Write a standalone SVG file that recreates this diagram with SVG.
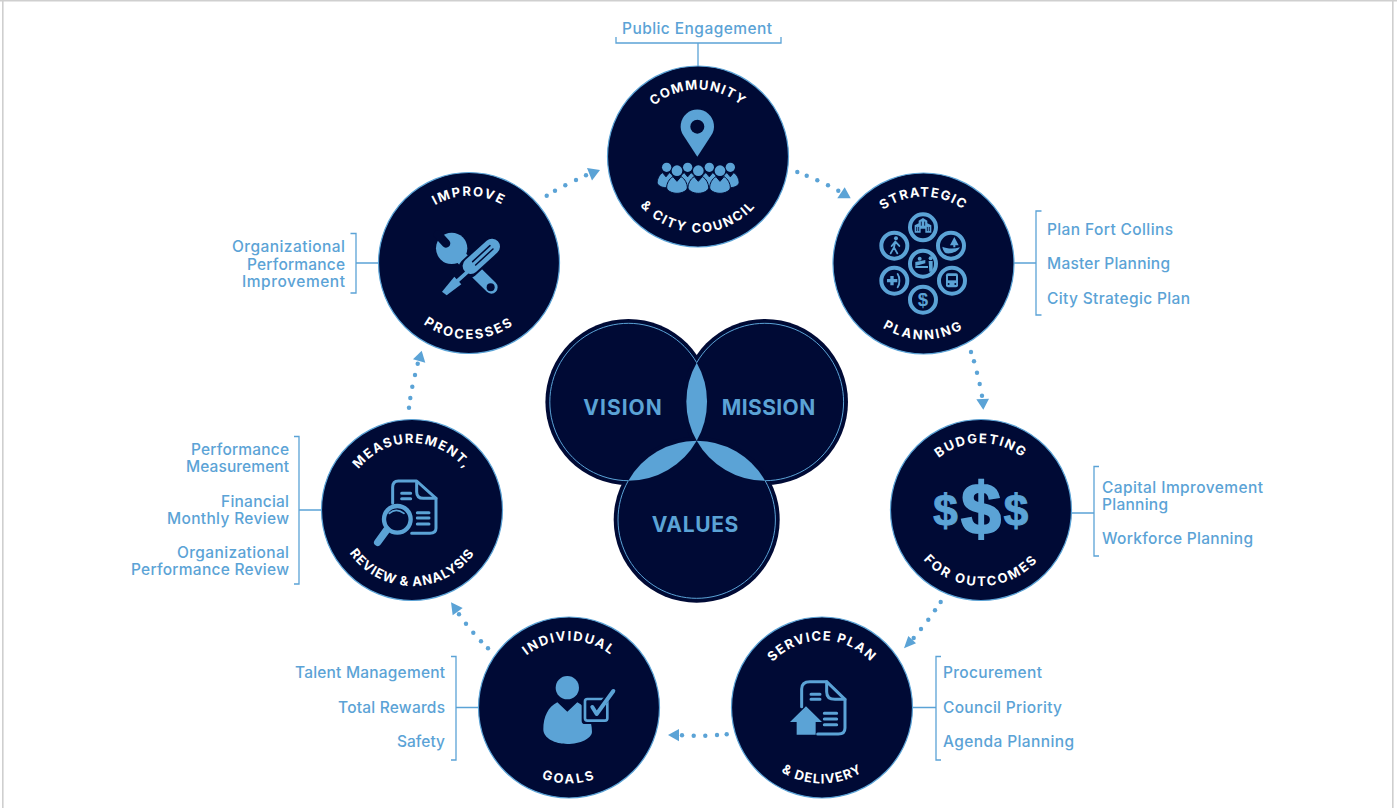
<svg xmlns="http://www.w3.org/2000/svg" width="1397" height="808" viewBox="0 0 1397 808">
<style>
.disc{fill:#000a35;stroke:#5ba3d6;stroke-width:1.2}
.arc{font-family:Inter,"Liberation Sans",sans-serif;font-size:13px;font-weight:700;fill:#fff;text-anchor:middle}
.lab{font-family:Inter,"Liberation Sans",sans-serif;font-size:15.5px;font-weight:500;fill:#5ba3d6;transform:translateY(.6px)}
.venn{font-family:Inter,"Liberation Sans",sans-serif;font-size:21px;font-weight:700;fill:#5ba3d6}
.br{fill:none;stroke:#5ba3d6;stroke-width:1.3}
.dot{fill:#5ba3d6}
.ic{fill:#5ba3d6}
.ln{fill:none;stroke:#5ba3d6;stroke-linecap:round;stroke-linejoin:round}
.dk{fill:#000a35}
.dl{fill:none;stroke:#000a35;stroke-linecap:round}
.ring{fill:none;stroke:#5ba3d6;stroke-width:12}
.usd{font-family:"Liberation Sans",sans-serif;font-weight:700;fill:#5ba3d6;text-anchor:middle}
</style>
<defs>
<path id="top" d="M-67 0A67 67 0 0 1 67 0"/>
<path id="bot" d="M-76 0A76 76 0 0 0 76 0"/>
<path id="person" d="M-12 0L0 14L12 0C24 6 31 22 31 32C31 42 16 50 0 50C-16 50-31 42-31 32C-31 22-24 6-12 0Z"/>
</defs>
<rect width="1397" height="808" fill="#fff"/>
<path d="M0 .8H1397M2.8 0V808M1392.8 0V808" fill="none" stroke="#cfcfcf" stroke-width="1.6"/>

<g id="connectors">
<path class="br" d="M698 43V66M1014 263H1036M356 263H378M299 510H321M456 707.5H478M912 707.5H936M1071 513H1094"/>
<g class="dot"><circle cx="797.3" cy="172" r="2.2"/><circle cx="806.7" cy="175.7" r="2.2"/><circle cx="817.3" cy="180.3" r="2.2"/><circle cx="828" cy="185.3" r="2.2"/><circle cx="838.3" cy="190.7" r="2.2"/><polygon points="837.3,198.3 844.7,187.3 850.7,198.3"/></g>
<g class="dot"><circle cx="971" cy="352" r="2.2"/><circle cx="974" cy="361.3" r="2.2"/><circle cx="977" cy="372.7" r="2.2"/><circle cx="979.7" cy="384" r="2.2"/><circle cx="982" cy="395.7" r="2.2"/><polygon points="976.3,399.3 989,398.7 983.3,409.7"/></g>
<g class="dot"><circle cx="940.7" cy="602" r="2.2"/><circle cx="935" cy="610.3" r="2.2"/><circle cx="928.3" cy="619.7" r="2.2"/><circle cx="921" cy="629" r="2.2"/><circle cx="913.7" cy="638" r="2.2"/><polygon points="904,648.3 908.3,636 916,643.3"/></g>
<g class="dot"><circle cx="726.7" cy="734.3" r="2.2"/><circle cx="717" cy="735" r="2.2"/><circle cx="705.3" cy="735.7" r="2.2"/><circle cx="693.7" cy="735.7" r="2.2"/><circle cx="682" cy="735.3" r="2.2"/><polygon points="668,735 679,729 679,741.3"/></g>
<g class="dot"><circle cx="488" cy="648.3" r="2.2"/><circle cx="481" cy="641.3" r="2.2"/><circle cx="473.3" cy="632.7" r="2.2"/><circle cx="466" cy="623.7" r="2.2"/><circle cx="459" cy="614.3" r="2.2"/><polygon points="451,602.3 462.7,608 452.7,615.3"/></g>
<g class="dot"><circle cx="409" cy="407.7" r="2.2"/><circle cx="410.3" cy="398" r="2.2"/><circle cx="412.3" cy="386.7" r="2.2"/><circle cx="415" cy="375" r="2.2"/><circle cx="417.7" cy="363.7" r="2.2"/><polygon points="421.7,350.7 425.3,362.7 413,359.3"/></g>
<g class="dot"><circle cx="546.7" cy="195.7" r="2.2"/><circle cx="555" cy="190.7" r="2.2"/><circle cx="565.3" cy="185.3" r="2.2"/><circle cx="576" cy="180" r="2.2"/><circle cx="586" cy="175.3" r="2.2"/><polygon points="600,170 587,168 592,180.5"/></g>
</g>

<g id="venn">
<circle class="dk" cx="628.4" cy="402" r="83"/><circle class="dk" cx="765" cy="402" r="83"/><circle class="dk" cx="696.7" cy="519.7" r="83"/>
<g fill="none" stroke="#5ba3d6" stroke-width="1"><path d="M696.7 362.7A78.7 78.7 0 1 0 628.3 480.7"/><path d="M696.7 362.7A78.7 78.7 0 1 1 765.1 480.7"/><path d="M628.3 480.7A78.7 78.7 0 1 0 765.1 480.7"/></g>
<path class="ic" d="M696.7 362.7A78.7 78.7 0 0 1 696.7 440.7A78.7 78.7 0 0 1 696.7 362.7Z"/>
<path class="ic" d="M696.7 440.7A78.7 78.7 0 0 1 628.3 480.7A78.7 78.7 0 0 1 696.7 440.7Z"/>
<path class="ic" d="M696.7 440.7A78.7 78.7 0 0 0 765.1 480.7A78.7 78.7 0 0 0 696.7 440.7Z"/>
<text class="venn" x="583.3" y="415" textLength="78.5" lengthAdjust="spacing">VISION</text>
<text class="venn" x="721.7" y="415" textLength="93.5" lengthAdjust="spacing">MISSION</text>
<text class="venn" x="651.7" y="531.7" textLength="86.6" lengthAdjust="spacing">VALUES</text>
</g>

<g id="node-community">
<circle class="disc" cx="698" cy="156.5" r="90.5"/>
<g transform="translate(698 156.5)"><text class="arc" letter-spacing="1.2"><textPath href="#top" startOffset="50%">COMMUNITY</textPath></text><text class="arc" letter-spacing="1.8"><textPath href="#bot" startOffset="50%">&amp; CITY COUNCIL</textPath></text></g>
<g transform="translate(590 0) scale(.3333)">
<path class="ic" d="M322 470L280 406A50 50 0 1 1 364 406Z"/><circle class="dk" cx="322" cy="380" r="21"/>
<g class="ic"><circle cx="230" cy="502" r="14"/><circle cx="293" cy="502" r="14"/><circle cx="358" cy="502" r="14"/><circle cx="421" cy="502" r="14"/></g>
<g class="ic" stroke="#000a35" stroke-width="3"><use href="#person" transform="translate(228 518) scale(.85 .9)"/><use href="#person" transform="translate(293 518) scale(.85 .9)"/><use href="#person" transform="translate(358 518) scale(.85 .9)"/><use href="#person" transform="translate(421 518) scale(.85 .9)"/>
<use href="#person" transform="translate(261 530)"/><use href="#person" transform="translate(325 530)"/><use href="#person" transform="translate(390 530)"/></g>
<g class="ic"><circle cx="261" cy="512" r="16"/><circle cx="325" cy="512" r="16"/><circle cx="390" cy="512" r="16"/></g>
</g>
</g>

<g id="node-strategic">
<circle class="disc" cx="923.5" cy="263.5" r="90.5"/>
<g transform="translate(923.5 263.5)"><text class="arc" letter-spacing="1.4"><textPath href="#top" startOffset="50%">STRATEGIC</textPath></text><text class="arc" letter-spacing="2.2"><textPath href="#bot" startOffset="50%">PLANNING</textPath></text></g>
<g transform="translate(820 170) scale(.3333)">
<circle class="ring" cx="309" cy="172" r="39"/><circle class="ring" cx="223" cy="227" r="39"/><circle class="ring" cx="393" cy="227" r="39"/><circle class="ring" cx="309" cy="281" r="39"/><circle class="ring" cx="223" cy="332" r="39"/><circle class="ring" cx="396" cy="332" r="39"/><circle class="ring" cx="309" cy="389" r="39"/>
<path class="ic" d="M284 188V166L296 160V152L309 144L322 152V160L334 166V188H316V176H302V188Z"/>
<path class="dl" stroke-width="2.5" d="M290 172V182M296 172V182M322 172V182M328 172V182M304 156V166M314 156V166"/>
<circle class="ic" cx="228" cy="205" r="6"/><path class="ln" stroke-width="5.5" d="M226 214L222 232L232 250M222 232L212 250M226 215L215 228M226 215L238 228"/>
<path class="ic" d="M403 201L390 226H400V232H406V226H416Z"/><path class="ic" d="M367 230C380 236 400 238 420 232C414 244 398 252 378 250C372 246 368 238 367 230Z"/>
<circle class="ic" cx="299" cy="266" r="6"/><circle class="ic" cx="332" cy="265" r="6"/><path class="ic" d="M286 276L316 270V280L286 288ZM286 288H324V294H286ZM326 273H338V305H328Z"/>
<path class="ic" d="M211 318H221V327H232V337H221V346H211V337H201V327H211Z"/><path class="ln" stroke-width="5.5" d="M233 312C240 322 240 342 233 352"/>
<rect class="ic" x="378" y="310" width="36" height="42" rx="6"/><rect class="dk" x="384" y="318" width="24" height="13"/><circle class="dk" cx="386" cy="342" r="3"/><circle class="dk" cx="406" cy="342" r="3"/>
<text class="usd" x="309" y="409" font-size="56">$</text>
</g>
</g>

<g id="node-budgeting">
<circle class="disc" cx="981" cy="510" r="90.5"/>
<g transform="translate(981 510)"><text class="arc" letter-spacing="1.6"><textPath href="#top" startOffset="50%">BUDGETING</textPath></text><text class="arc" letter-spacing="2.1"><textPath href="#bot" startOffset="50%">FOR OUTCOMES</textPath></text></g>
<text class="usd" x="945.5" y="526" font-size="44" stroke="#5ba3d6" stroke-width="1">$</text>
<text class="usd" x="981" y="534" font-size="72" stroke="#5ba3d6" stroke-width="2">$</text>
<text class="usd" x="1016" y="526" font-size="44" stroke="#5ba3d6" stroke-width="1">$</text>
</g>

<g id="node-service">
<circle class="disc" cx="822" cy="707.5" r="90.5"/>
<g transform="translate(822 707.5)"><text class="arc" letter-spacing="1.4"><textPath href="#top" startOffset="50%">SERVICE PLAN</textPath></text><text class="arc" letter-spacing="1.1"><textPath href="#bot" startOffset="50%">&amp; DELIVERY</textPath></text></g>
<g transform="translate(725 610) scale(.3333)">
<path class="ln" stroke-width="9" d="M278 372H340Q360 372 360 354V268L305 215H255Q230 215 230 237V290"/>
<path class="ln" stroke-width="9" d="M305 215V245Q305 268 330 268H360M258 253H285M258 268H285M298 310H335M298 327H335M298 344H335"/>
<path class="ic" d="M243 289L195 336H215V374H272V336H291Z"/>
</g>
</g>

<g id="node-goals">
<circle class="disc" cx="569" cy="707.5" r="90.5"/>
<g transform="translate(569 707.5)"><text class="arc" letter-spacing="1.6"><textPath href="#top" startOffset="50%">INDIVIDUAL</textPath></text><text class="arc" letter-spacing="2.3"><textPath href="#bot" startOffset="50%">GOALS</textPath></text></g>
<g transform="translate(470 610) scale(.3333)">
<circle class="ic" cx="292" cy="233" r="35"/>
<path class="ic" d="M262 277L292 305L322 277C350 290 366 330 366 365C366 385 330 402 292 402C255 402 220 385 220 358C220 320 235 290 262 277Z"/>
<rect class="dk" x="335" y="257" width="87" height="85" rx="10"/>
<rect x="345" y="267" width="67" height="65" rx="7" fill="none" stroke="#5ba3d6" stroke-width="8"/>
<path fill="none" stroke="#000a35" stroke-width="18" d="M392 287L430 243"/>
<path class="ln" stroke-width="12" d="M367 291L380 312L430 243"/>
</g>
</g>

<g id="node-measurement">
<circle class="disc" cx="412" cy="510" r="90.5"/>
<g transform="translate(412 510)"><text class="arc" letter-spacing="1.4"><textPath href="#top" startOffset="50%">MEASUREMENT,</textPath></text><text class="arc" letter-spacing=".9"><textPath href="#bot" startOffset="50%">REVIEW &amp; ANALYSIS</textPath></text></g>
<g transform="translate(310 400) scale(.3333)">
<path class="ln" stroke-width="9" d="M305 400H360Q378 400 378 385V295L320 243H265Q248 243 248 262V310"/>
<path class="ln" stroke-width="9" d="M320 245V275Q320 295 340 295H378M275 280H302M275 296H302M322 338H357M322 354H357M322 372H357"/>
<circle cx="262" cy="358" r="40" fill="#000a35" stroke="#5ba3d6" stroke-width="13"/>
<path class="ln" stroke-width="5" d="M238 340Q258 322 282 340"/>
<path class="ln" stroke-width="22" d="M230 390L203 427"/>
</g>
</g>

<g id="node-improve">
<circle class="disc" cx="469" cy="263" r="90.5"/>
<g transform="translate(469 263)"><text class="arc" letter-spacing="1.6"><textPath href="#top" startOffset="50%">IMPROVE</textPath></text><text class="arc" letter-spacing="2.2"><textPath href="#bot" startOffset="50%">PROCESSES</textPath></text></g>
<g transform="translate(360 160) scale(.3333)">
<circle class="ic" cx="275" cy="265" r="47"/>
<path class="ln" stroke-width="38" d="M275 265L394 382"/>
<path fill="none" stroke="#000a35" stroke-width="26" stroke-linecap="round" d="M234 224L258 250"/>
<circle class="dk" cx="392" cy="382" r="12"/>
<path fill="none" stroke="#000a35" stroke-width="60" stroke-linecap="round" d="M396 260L325 325"/>
<path class="ln" stroke-width="48" d="M396 260L332 318"/>
<path fill="none" stroke="#000a35" stroke-width="4.5" stroke-linecap="round" d="M338 305L390 257M347 315L399 267"/>
<path class="ln" stroke-width="11" d="M320 338L290 365"/>
<path class="ic" d="M283 350L304 373L260 406L246 395Z"/>
</g>
</g>

<g id="label-public"><path class="br" d="M616 37V43H781V37"/><text class="lab" x="622" y="33" textLength="150" lengthAdjust="spacing">Public Engagement</text></g>
<g id="label-strategic"><path class="br" d="M1041.5 211H1036V315H1041.5"/>
<text class="lab" x="1047" y="234" textLength="126" lengthAdjust="spacing">Plan Fort Collins</text>
<text class="lab" x="1047" y="268" textLength="123" lengthAdjust="spacing">Master Planning</text>
<text class="lab" x="1047" y="303" textLength="143" lengthAdjust="spacing">City Strategic Plan</text></g>
<g id="label-improve"><path class="br" d="M350.5 233.5H356V293H350.5"/>
<text class="lab" x="232" y="251" textLength="113" lengthAdjust="spacing">Organizational</text>
<text class="lab" x="247" y="269" textLength="98" lengthAdjust="spacing">Performance</text>
<text class="lab" x="242" y="286" textLength="103" lengthAdjust="spacing">Improvement</text></g>
<g id="label-measurement"><path class="br" d="M294 436.5H299V584H294"/>
<text class="lab" x="191" y="454" textLength="98" lengthAdjust="spacing">Performance</text>
<text class="lab" x="186" y="471" textLength="103" lengthAdjust="spacing">Measurement</text>
<text class="lab" x="221" y="506" textLength="68" lengthAdjust="spacing">Financial</text>
<text class="lab" x="167" y="523" textLength="122" lengthAdjust="spacing">Monthly Review</text>
<text class="lab" x="177" y="557" textLength="112" lengthAdjust="spacing">Organizational</text>
<text class="lab" x="131" y="574" textLength="158" lengthAdjust="spacing">Performance Review</text></g>
<g id="label-goals"><path class="br" d="M451 656.5H456V760H451"/>
<text class="lab" x="295" y="677" textLength="150" lengthAdjust="spacing">Talent Management</text>
<text class="lab" x="338" y="712" textLength="107" lengthAdjust="spacing">Total Rewards</text>
<text class="lab" x="397" y="746" textLength="48" lengthAdjust="spacing">Safety</text></g>
<g id="label-service"><path class="br" d="M941 656.5H936V760H941"/>
<text class="lab" x="943" y="677" textLength="99" lengthAdjust="spacing">Procurement</text>
<text class="lab" x="943" y="712" textLength="119" lengthAdjust="spacing">Council Priority</text>
<text class="lab" x="943" y="746" textLength="131" lengthAdjust="spacing">Agenda Planning</text></g>
<g id="label-budgeting"><path class="br" d="M1099 466.5H1094V556H1099"/>
<text class="lab" x="1102" y="492" textLength="161" lengthAdjust="spacing">Capital Improvement</text>
<text class="lab" x="1102" y="509" textLength="66" lengthAdjust="spacing">Planning</text>
<text class="lab" x="1102" y="543" textLength="151" lengthAdjust="spacing">Workforce Planning</text></g>
</svg>
